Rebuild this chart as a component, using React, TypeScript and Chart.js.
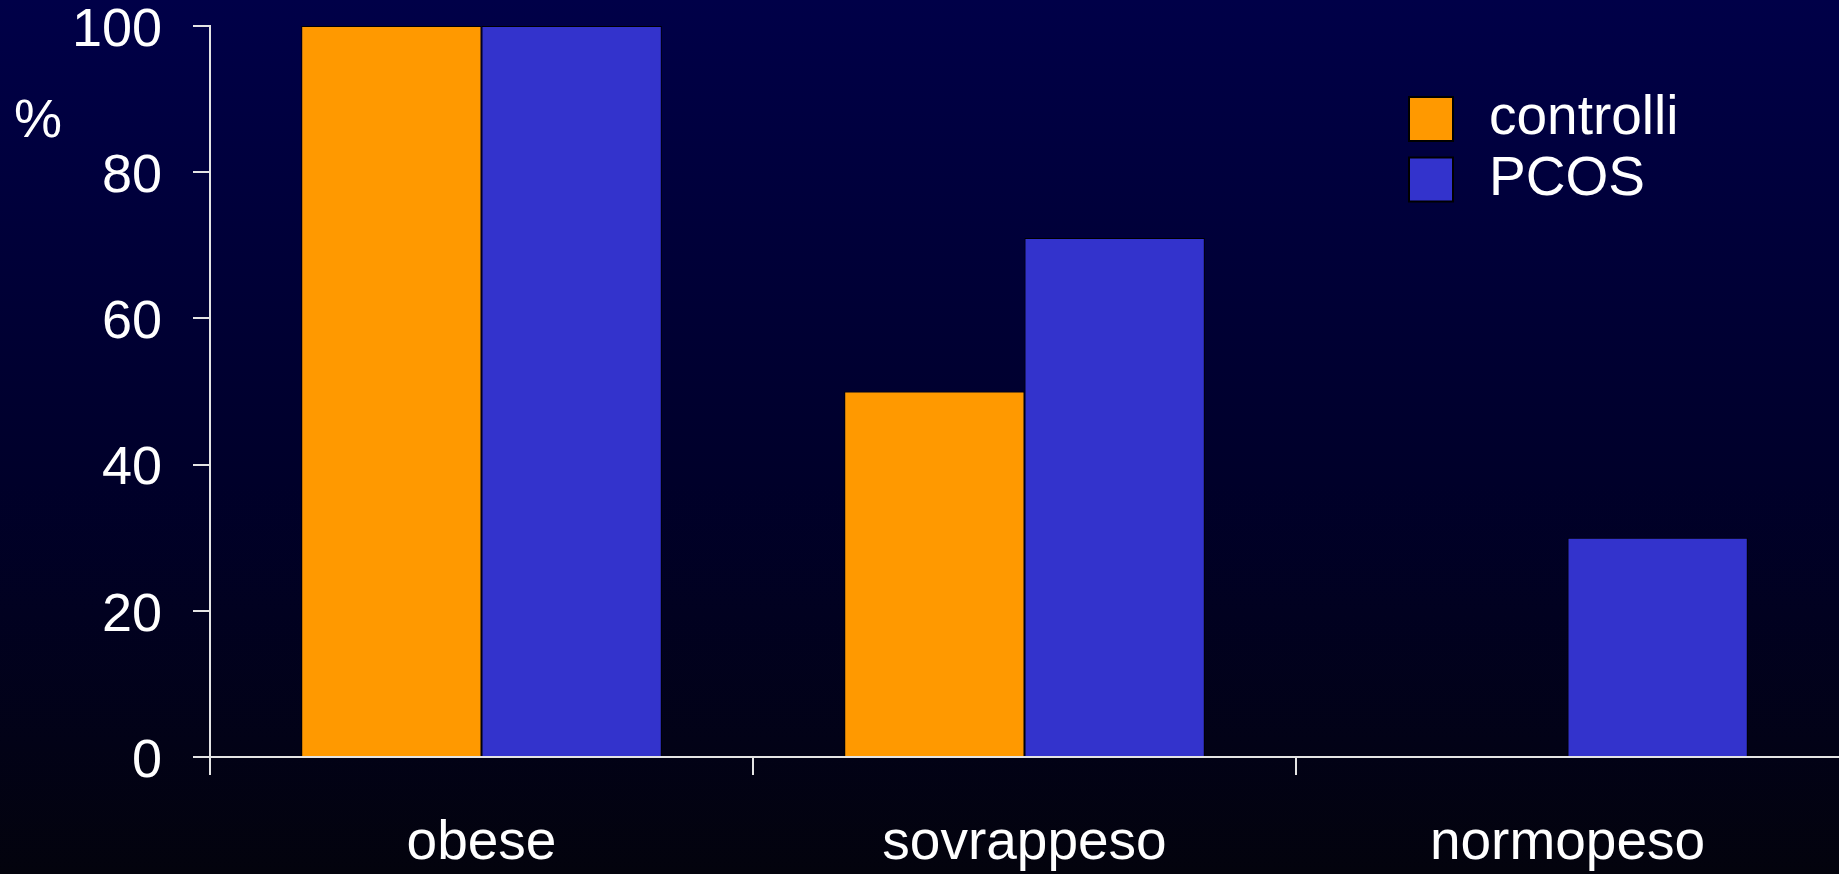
import React, { useEffect, useRef } from 'react';
import { Chart, registerables } from 'chart.js';

Chart.register(...registerables);

const categories = ['obese', 'sovrappeso', 'normopeso'];
const seriesNames = ['controlli', 'PCOS'];
const controlliValues = [100, 50, 0];
const pcosValues = [100, 71, 30];
const yMin = 0;
const yMax = 100;
const yStep = 20;
const yUnitLabel = '%';

const FONT = "'Liberation Sans', Arial, sans-serif";
const AXIS_COLOR = '#e4e4e4';

export default function App() {
  const ref = useRef<HTMLCanvasElement | null>(null);

  useEffect(() => {
    document.body.style.margin = '0';
    const canvas = ref.current;
    if (!canvas) return;

    const overlayPlugin = {
      id: 'overlayLegend',
      afterDraw(chart: any) {
        const ctx = chart.ctx;
        ctx.save();
        chart.data.datasets.forEach((ds: any, i: number) => {
          const x = 1408;
          const y = 96 + i * 60.5;
          ctx.fillStyle = '#000000';
          ctx.fillRect(x, y, 46, 46);
          ctx.fillStyle = ds.backgroundColor;
          ctx.fillRect(x + 2, y + 2, 42, 42);
          ctx.fillStyle = '#ffffff';
          ctx.font = `55px ${FONT}`;
          ctx.textAlign = 'left';
          ctx.textBaseline = 'alphabetic';
          ctx.fillText(ds.label, 1489, y + 38);
        });
        ctx.fillStyle = '#ffffff';
        ctx.font = `54px ${FONT}`;
        ctx.textAlign = 'left';
        ctx.textBaseline = 'alphabetic';
        ctx.fillText(yUnitLabel, 14, 137);
        ctx.restore();
      },
    };

    const chart = new Chart(canvas, {
      type: 'bar',
      data: {
        labels: categories,
        datasets: [
          {
            label: seriesNames[0],
            data: controlliValues,
            backgroundColor: '#FF9900',
            borderColor: '#000000',
            borderWidth: 1,
          },
          {
            label: seriesNames[1],
            data: pcosValues,
            backgroundColor: '#3333CC',
            borderColor: '#000000',
            borderWidth: 1,
          },
        ],
      },
      options: {
        responsive: false,
        animation: false,
        events: [],
        layout: { padding: { top: 26, right: 0, left: 0, bottom: 0 } },
        datasets: {
          bar: { categoryPercentage: 0.664, barPercentage: 1 },
        },
        plugins: {
          legend: { display: false },
          tooltip: { enabled: false },
        },
        scales: {
          x: {
            grid: {
              display: true,
              drawOnChartArea: false,
              offset: true,
              tickLength: 18,
              color: (c: any) => (c.type === 'tick' ? AXIS_COLOR : 'rgba(0,0,0,0)'),
              lineWidth: 2,
            },
            border: { color: AXIS_COLOR, width: 2 },
            ticks: {
              color: '#ffffff',
              font: { family: FONT, size: 55 },
              padding: 36,
              maxRotation: 0,
            },
            afterFit(scale: any) {
              scale.height = 117;
              scale.paddingLeft = 0;
              scale.paddingRight = 0;
            },
          },
          y: {
            min: yMin,
            max: yMax,
            grid: {
              display: true,
              drawOnChartArea: false,
              tickLength: 17,
              color: AXIS_COLOR,
              lineWidth: 2,
            },
            border: { color: AXIS_COLOR, width: 2 },
            ticks: {
              stepSize: yStep,
              color: '#ffffff',
              font: { family: FONT, size: 54 },
              padding: 31,
              labelOffset: 5,
            },
            afterFit(scale: any) {
              scale.width = 210;
              scale.paddingTop = 0;
              scale.paddingBottom = 0;
            },
          },
        },
      },
      plugins: [overlayPlugin],
    });

    return () => {
      chart.destroy();
    };
  }, []);

  return (
    <div
      style={{
        position: 'fixed',
        left: 0,
        top: 0,
        width: '1839px',
        height: '874px',
        background: 'linear-gradient(to bottom, #000048 0%, #00002a 55%, #03030d 100%)',
      }}
    >
      <canvas ref={ref} width={1839} height={874} style={{ display: 'block', width: '1839px', height: '874px' }} />
    </div>
  );
}
